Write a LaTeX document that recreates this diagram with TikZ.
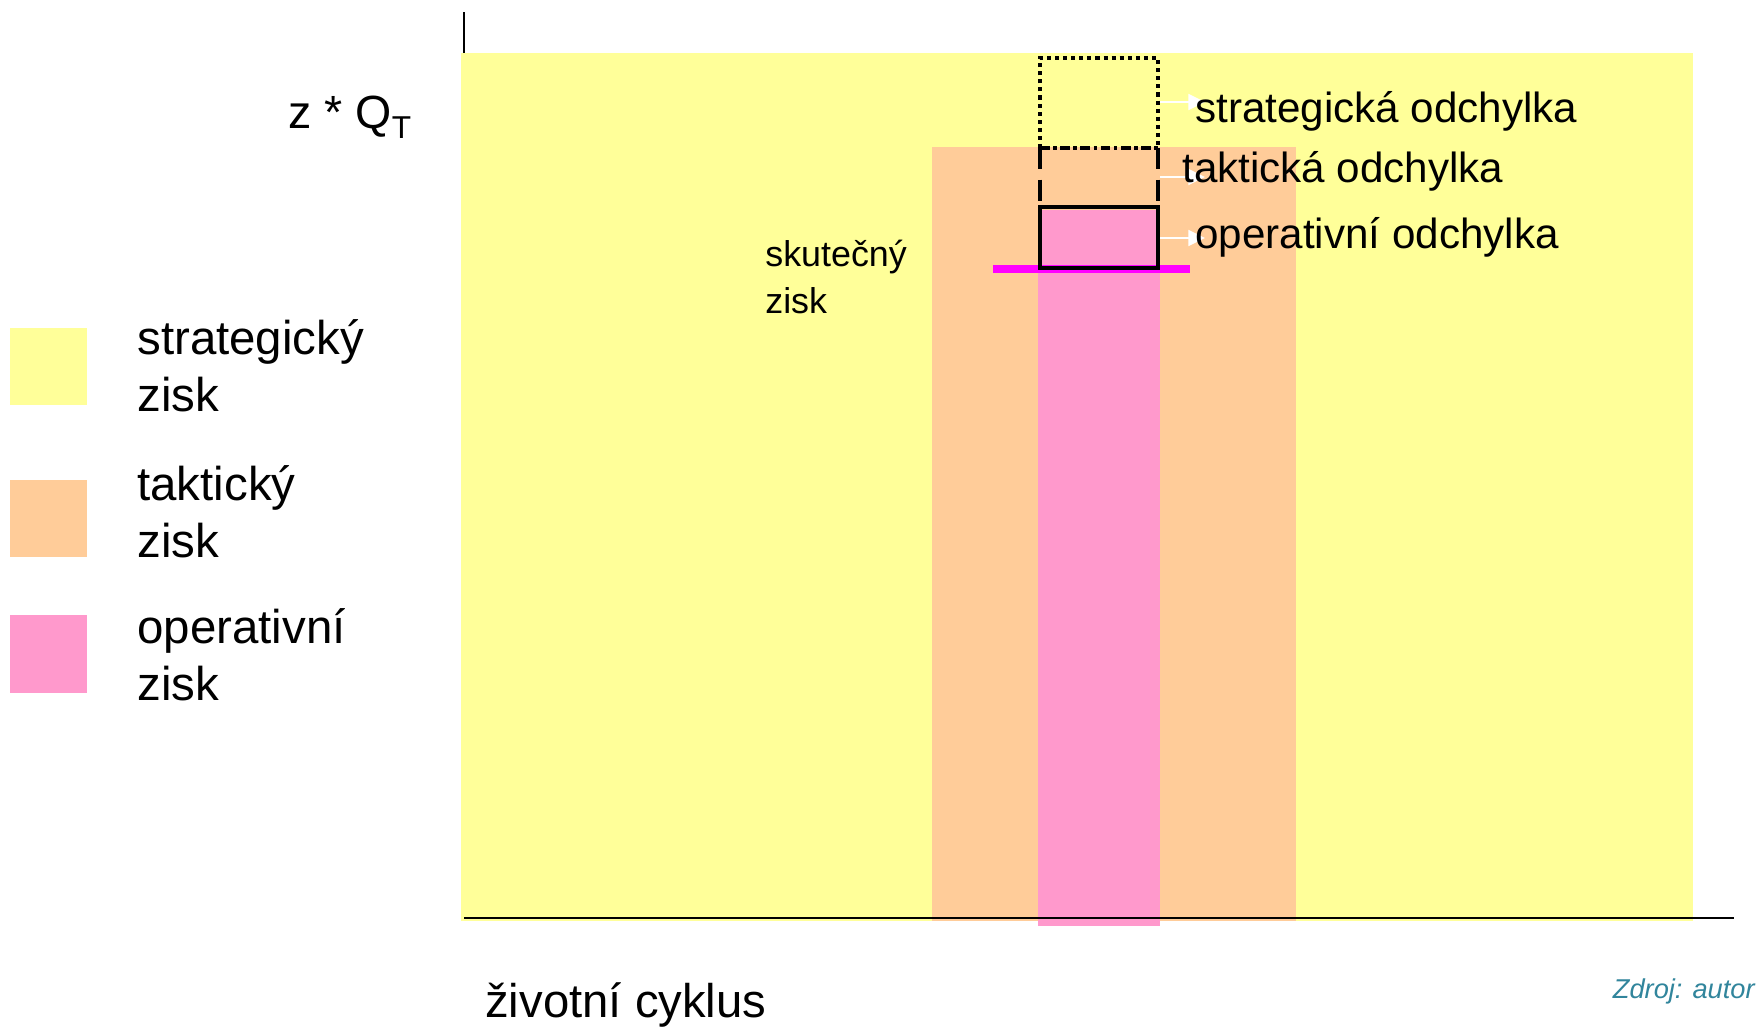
\documentclass[tikz,border=0pt]{standalone}
\usepackage{fontspec}
\setmainfont{Liberation Sans}
\usepackage{xcolor}
\usetikzlibrary{arrows.meta}

\definecolor{strat}{RGB}{255,255,153}
\definecolor{takt}{RGB}{255,204,153}
\definecolor{oper}{RGB}{255,153,204}
\definecolor{skut}{RGB}{255,0,255}
\definecolor{zdroj}{RGB}{49,133,156}

\begin{document}
\begin{tikzpicture}[x=0.02cm,y=-0.02cm,>={Triangle[length=9.5pt,width=9pt]},
  lbl/.style={anchor=base west,inner sep=0pt,font=\fontsize{24}{28}\selectfont},
  leg/.style={anchor=base west,inner sep=0pt,align=left,font=\fontsize{27}{32}\selectfont},
  dev/.style={line width=2.3pt},
  pfeil/.style={->,white,line width=1.3pt}]
\useasboundingbox (0,0) rectangle (1760,1029);
% axes and the three profit areas
\draw[line width=1.1pt] (464,12) -- (464,918);
\fill[strat] (461,53) rectangle (1693,921);
\fill[takt] (932,147) rectangle (1296,921);
\fill[oper] (1038,210) rectangle (1160,926);
\draw[line width=1.1pt] (464,918) -- (1734,918);
\node[anchor=base west,inner sep=0pt,font=\fontsize{26.5}{30}\selectfont] (qt) at (288,128)
  {z * Q\raisebox{-5.7pt}{\fontsize{18}{20}\selectfont T}};
\node[anchor=base west,inner sep=0pt,font=\fontsize{26.9}{30}\selectfont] (cyklus) at (485,1017) {životní cyklus};
% actual profit
\draw[skut,line width=4pt] (993,269) -- (1190,269);
\node[anchor=base west,inner sep=0pt,align=left,font=\fontsize{20.4}{26.2}\selectfont] (skutLbl) at (765,313) {skutečný\\zisk};
% deviations
\draw[dev,dash pattern=on 2.3pt off 2.3pt] (1040,148) -- (1040,58) -- (1158,58) -- (1158,148);
\draw[dev,dash pattern=on 5.5pt off 2pt on 2pt off 2pt] (1040,148) -- (1158,148);
\draw[dev,dash pattern=on 12pt off 6pt] (1040,148) -- (1040,207) (1158,148) -- (1158,207);
\draw[dev] (1040,207) rectangle (1158,268);
\coordinate (sA) at (1160,102); \coordinate (sB) at (1205,102);
\coordinate (tA) at (1160,177); \coordinate (tB) at (1205,177);
\coordinate (oA) at (1160,238); \coordinate (oB) at (1205,238);
\draw[pfeil] (sA) -- (sB);
\draw[pfeil] (tA) -- (tB);
\draw[pfeil] (oA) -- (oB);
\node[lbl] (lblStrat) at (1195,122.7) {strategická odchylka};
\node[lbl] (lblTakt) at (1182,182.7) {taktická odchylka};
\node[lbl] (lblOper) at (1195,248) {operativní odchylka};
% legend
\fill[strat] (10,328) rectangle (87,405);
\fill[takt] (10,480) rectangle (87,557);
\fill[oper] (10,615) rectangle (87,693);
\node[leg] (legStrat) at (137,411) {strategický\\zisk};
\node[leg] (legTakt) at (137,557) {taktický\\zisk};
\node[leg] (legOper) at (137,700) {operativní\\zisk};
\node[anchor=base east,inner sep=0pt,text=zdroj,font=\fontsize{15.5}{18}\itshape] (zdroj) at (1755,998) {Zdroj: autor};
\end{tikzpicture}
\end{document}
